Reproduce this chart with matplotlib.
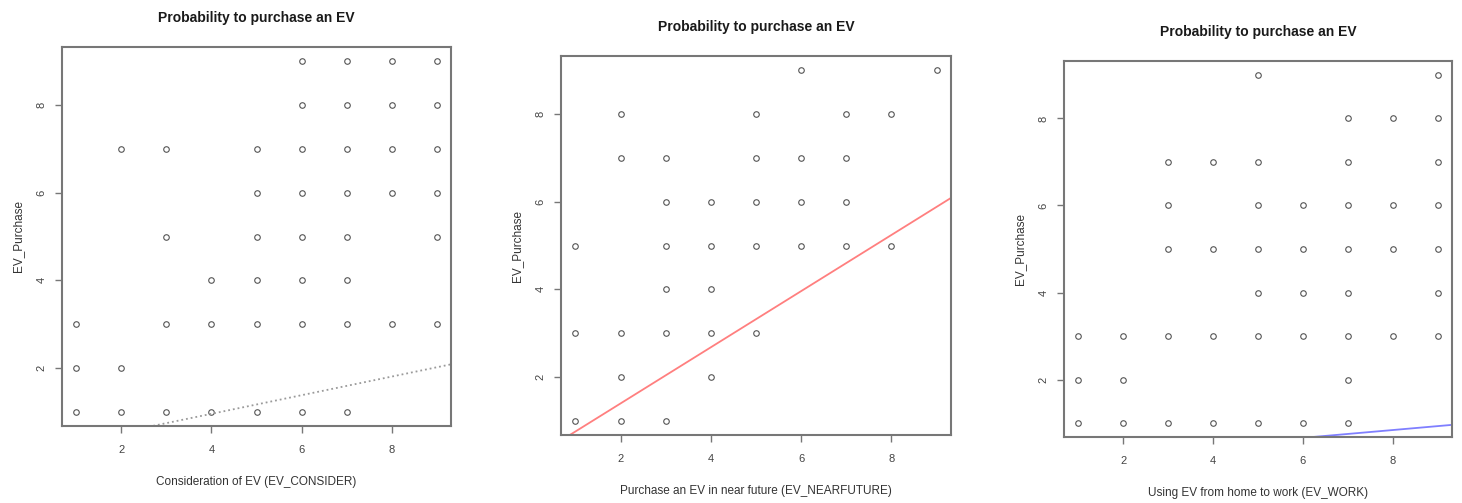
import matplotlib
matplotlib.use('Agg')
import matplotlib.pyplot as plt
import numpy as np

plt.rcParams['font.family'] = ['Liberation Sans', 'DejaVu Sans']

# EV_CONSIDER vs EV_Purchase
consider_x = [1, 1, 1, 2, 2, 2, 3, 3, 3, 3, 4, 4, 4,
              5, 5, 5, 5, 5, 5, 6, 6, 6, 6, 6, 6, 6, 6,
              7, 7, 7, 7, 7, 7, 7, 7, 8, 8, 8, 8, 8, 9, 9, 9, 9, 9, 9]
consider_y = [1, 2, 3, 1, 2, 7, 1, 3, 5, 7, 1, 3, 4,
              1, 3, 4, 5, 6, 7, 1, 3, 4, 5, 6, 7, 8, 9,
              1, 3, 4, 5, 6, 7, 8, 9, 3, 6, 7, 8, 9, 3, 5, 6, 7, 8, 9]

# EV_NEARFUTURE vs EV_Purchase
near_x = [1, 1, 1, 2, 2, 2, 2, 2, 3, 3, 3, 3, 3, 3, 4, 4, 4, 4, 4,
          5, 5, 5, 5, 5, 6, 6, 6, 6, 7, 7, 7, 7, 8, 8, 9]
near_y = [1, 3, 5, 1, 2, 3, 7, 8, 1, 3, 4, 5, 6, 7, 2, 3, 4, 5, 6,
          3, 5, 6, 7, 8, 5, 6, 7, 9, 5, 6, 7, 8, 5, 8, 9]

# EV_WORK vs EV_Purchase
work_x = [1, 1, 1, 2, 2, 2, 3, 3, 3, 3, 3, 4, 4, 4, 4,
          5, 5, 5, 5, 5, 5, 5, 6, 6, 6, 6, 6,
          7, 7, 7, 7, 7, 7, 7, 7, 8, 8, 8, 8, 9, 9, 9, 9, 9, 9, 9]
work_y = [1, 2, 3, 1, 2, 3, 1, 3, 5, 6, 7, 1, 3, 5, 7,
          1, 3, 4, 5, 6, 7, 9, 1, 3, 4, 5, 6,
          1, 2, 3, 4, 5, 6, 7, 8, 3, 5, 6, 8, 3, 4, 5, 6, 7, 8, 9]

# fitted lines (intercept, slope)
line_coef = [(0.11, 0.212), (0.12, 0.64), (0.12, 0.09)]
line_colors = ['#9a9a9a', '#ff7f7f', '#7f7fff']
line_styles = [':', '-', '-']

xlabels = ['Consideration of EV (EV_CONSIDER)',
           'Purchase an EV in near future (EV_NEARFUTURE)',
           'Using EV from home to work (EV_WORK)']
title = 'Probability to purchase an EV'

W, H = 1462, 503
fig = plt.figure(figsize=(W / 100, H / 100), dpi=100)

# panel boxes in pixels: left, right, top, bottom
boxes = [(62, 451, 47, 426), (561, 951, 56, 435), (1064, 1452, 61, 437)]
data = [(consider_x, consider_y), (near_x, near_y), (work_x, work_y)]

for i in range(3):
    l, r, t, b = boxes[i]
    ax = fig.add_axes([l / W, 1 - b / H, (r - l) / W, (b - t) / H])
    xs, ys = data[i]
    ax.plot(xs, ys, linestyle='none', marker='o', markersize=4,
            markerfacecolor='none', markeredgecolor='#555555', markeredgewidth=0.8)
    ax.set_xlim(0.68, 9.32)
    ax.set_ylim(0.68, 9.32)
    a, s = line_coef[i]
    xx = np.array([0.0, 10.0])
    ax.plot(xx, a + s * xx, color=line_colors[i], linestyle=line_styles[i],
            linewidth=1.3)
    ax.set_xticks([2, 4, 6, 8])
    ax.set_yticks([2, 4, 6, 8])
    ax.tick_params(direction='out', length=5, width=1, colors='#777777',
                   labelcolor='#444444', labelsize=8)
    ax.tick_params(axis='x', pad=9)
    ax.tick_params(axis='y', pad=6)
    for lab in ax.get_yticklabels():
        lab.set_rotation(90)
        lab.set_va('center')
    for sp in ax.spines.values():
        sp.set_color('#777777')
        sp.set_linewidth(1.5)
    ax.set_title(title, fontsize=10, fontweight='bold', color='#1a1a1a', pad=18)
    ax.set_xlabel(xlabels[i], fontsize=8.5, color='#333333', labelpad=15)
    ax.set_ylabel('EV_Purchase', fontsize=8.5, color='#333333', labelpad=9)

fig.savefig('out.png', dpi=100)
